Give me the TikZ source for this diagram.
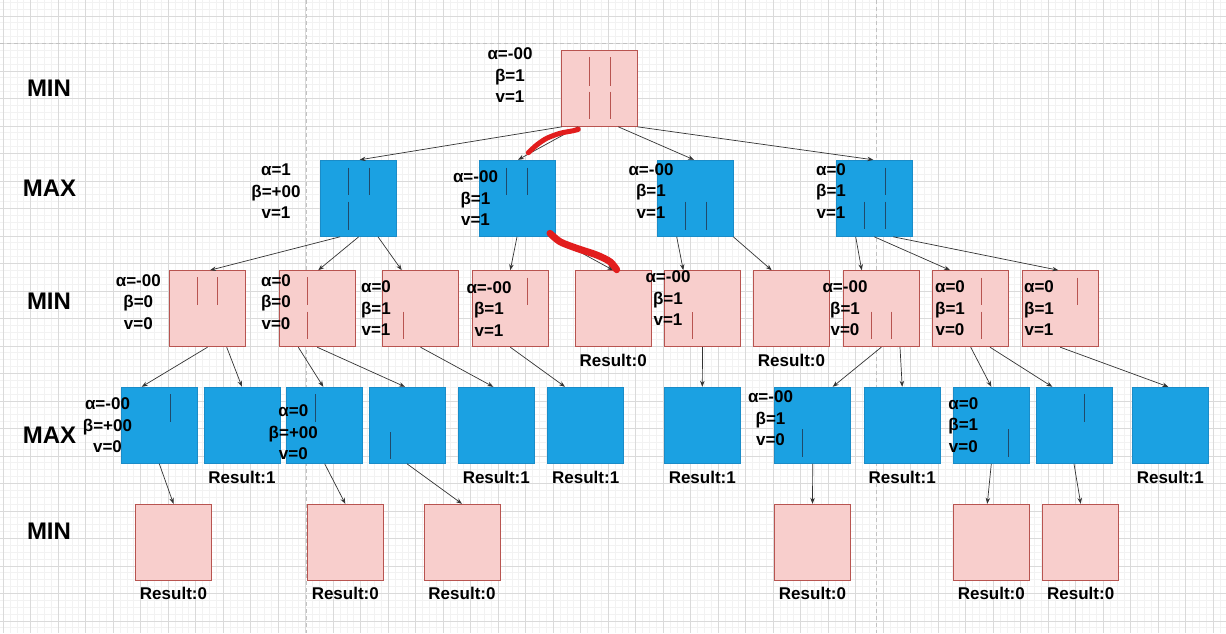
\documentclass[tikz,border=0pt]{standalone}
\usepackage{fontspec}
\setmainfont{Liberation Sans}
\usetikzlibrary{arrows.meta,calc}
\definecolor{pinkfill}{HTML}{F8CECC}
\definecolor{pinkdraw}{HTML}{B85450}
\definecolor{bluefill}{HTML}{1BA1E2}
\definecolor{bluedraw}{HTML}{1A8CC8}
\definecolor{blueline}{HTML}{1F4A6B}
\definecolor{edgecol}{HTML}{333333}
\definecolor{gridmajor}{HTML}{DADADA}
\definecolor{gridminor}{HTML}{F2F2F2}
\definecolor{pagebreak}{HTML}{C2C2C2}
\definecolor{redmark}{HTML}{E21D1D}
\begin{document}
\begin{tikzpicture}[x=1pt,y=-1pt,
 minbox/.style={rectangle,draw=pinkdraw,fill=pinkfill,line width=1pt,minimum size=76pt,inner sep=0pt},
 maxbox/.style={rectangle,draw=bluedraw,fill=bluefill,line width=1pt,minimum size=76pt,inner sep=0pt},
 lab/.style={align=center,font=\fontsize{17}{21.5}\selectfont\bfseries,inner sep=0pt},
 res/.style={font=\fontsize{17}{21.5}\selectfont\bfseries,inner sep=0pt},
 lev/.style={font=\fontsize{24}{28}\selectfont\bfseries,inner sep=0pt},
 edge/.style={draw=edgecol,line width=0.7pt,-{Stealth[length=6pt,width=4.5pt]}},
 pmark/.style={draw=pinkdraw,line width=1pt},
 bmark/.style={draw=blueline,line width=1pt},
 redstroke/.style={draw=redmark,line cap=round,line join=round},
 minorgrid/.style={draw=gridminor,line width=0.8pt},
 majorgrid/.style={draw=gridmajor,line width=1pt},
 pbreak/.style={draw=pagebreak,line width=1pt,dash pattern=on 4pt off 3pt},
]
\fill[white] (0,0) rectangle (1226,633);
\useasboundingbox (0,0) rectangle (1226,633);
% grid
\foreach \i in {0,...,178} {\draw[minorgrid] ({3.2+6.8755*\i},0) -- ({3.2+6.8755*\i},633);}
\foreach \j in {-2,...,89} {\draw[minorgrid] (0,{16+6.875*\j}) -- (1226,{16+6.875*\j});}
\foreach \i in {0,...,44} {\draw[majorgrid] ({3.2+27.502*\i},0) -- ({3.2+27.502*\i},633);}
\foreach \j in {0,...,22} {\draw[majorgrid] (0,{16+27.5*\j}) -- (1226,{16+27.5*\j});}
\draw[pbreak] (0,43.4) -- (1226,43.4);
\draw[pbreak] (306.2,0) -- (306.2,633);
\draw[pbreak] (876.7,0) -- (876.7,633);

% level labels
\node[lev] (lv0) at (49,88.3) {MIN};
\node[lev] (lv1) at (49.5,188.3) {MAX};
\node[lev] (lv2) at (49,301.7) {MIN};
\node[lev] (lv3) at (49.5,435) {MAX};
\node[lev] (lv4) at (49,531.7) {MIN};

% boxes
\node[minbox] (root) at (599.5,88.3) {};
\node[maxbox] (m1) at (358.7,198.3) {};
\node[maxbox] (m2) at (517,198.3) {};
\node[maxbox] (m3) at (695.5,198.3) {};
\node[maxbox] (m4) at (874.3,198.3) {};
\node[minbox] (A) at (207.5,308.7) {};
\node[minbox] (B) at (317.2,308.7) {};
\node[minbox] (C) at (420.5,308.7) {};
\node[minbox] (D) at (510.3,308.7) {};
\node[minbox] (E) at (613.2,308.7) {};
\node[minbox] (F) at (702.5,308.7) {};
\node[minbox] (G) at (791.5,308.7) {};
\node[minbox] (H) at (881.3,308.7) {};
\node[minbox] (I) at (970.7,308.7) {};
\node[minbox] (J) at (1060.2,308.7) {};
\node[maxbox] (K) at (159.3,425.3) {};
\node[maxbox] (L) at (242,425.3) {};
\node[maxbox] (M) at (324.7,425.3) {};
\node[maxbox] (N) at (407,425.3) {};
\node[maxbox] (O) at (496.3,425.3) {};
\node[maxbox] (P) at (585.7,425.3) {};
\node[maxbox] (Q) at (702.3,425.3) {};
\node[maxbox] (R) at (812.7,425.3) {};
\node[maxbox] (S) at (902.2,425.3) {};
\node[maxbox] (T) at (991.3,425.3) {};
\node[maxbox] (U) at (1074,425.3) {};
\node[maxbox] (V) at (1170.3,425.3) {};
\node[minbox] (W) at (173.5,542.3) {};
\node[minbox] (X) at (345.3,542.3) {};
\node[minbox] (Y) at (462,542.3) {};
\node[minbox] (Z1) at (812.5,542.3) {};
\node[minbox] (Z2) at (991.3,542.3) {};
\node[minbox] (Z3) at (1080.7,542.3) {};

% edges
\draw[edge] ([xshift=-37.5pt]root.south) -- ([xshift=1pt]m1.north);
\draw[edge] ([xshift=-21.5pt]root.south) -- ([xshift=1pt]m2.north);
\draw[edge] ([xshift=18.8pt]root.south) -- ([xshift=-1.5pt]m3.north);
\draw[edge] ([xshift=37.8pt]root.south) -- ([xshift=-1pt]m4.north);
\draw[edge] ([xshift=-18.7pt]m1.south) -- ([xshift=2.5pt]A.north);
\draw[edge] (m1.south) -- ([xshift=1pt]B.north);
\draw[edge] ([xshift=19.3pt]m1.south) -- ([xshift=-18.8pt]C.north);
\draw[edge] (m2.south) -- (D.north);
\draw[edge] ([xshift=35pt]m2.south) -- (E.north);
\draw[edge] ([xshift=-18.8pt]m3.south) -- ([xshift=-19.2pt]F.north);
\draw[edge] ([xshift=37.8pt]m3.south) -- ([xshift=-19.8pt]G.north);
\draw[edge] ([xshift=-18.6pt]m4.south) -- ([xshift=-19.6pt]H.north);
\draw[edge] (m4.south) -- ([xshift=-20.7pt]I.north);
\draw[edge] ([xshift=19pt]m4.south) -- ([xshift=-1.9pt]J.north);
\draw[edge] (A.south) -- ([xshift=-17.6pt]K.north);
\draw[edge] ([xshift=19.2pt]A.south) -- (L.north);
\draw[edge] ([xshift=-18.9pt]B.south) -- ([xshift=-1.4pt]M.north);
\draw[edge] (B.south) -- ([xshift=-2pt]N.north);
\draw[edge] (C.south) -- ([xshift=-3pt]O.north);
\draw[edge] (D.south) -- ([xshift=-20.7pt]P.north);
\draw[edge] (F.south) -- (Q.north);
\draw[edge] (H.south) -- ([xshift=20pt]R.north);
\draw[edge] ([xshift=18.7pt]H.south) -- (S.north);
\draw[edge] (I.south) -- (T.north);
\draw[edge] ([xshift=19.3pt]I.south) -- ([xshift=-21.7pt]U.north);
\draw[edge] (J.south) -- ([xshift=-2pt]V.north);
\draw[edge] (K.south) -- (W.north);
\draw[edge] (M.south) -- (X.north);
\draw[edge] (N.south) -- (Y.north);
\draw[edge] (R.south) -- (Z1.north);
\draw[edge] (T.south) -- ([xshift=-4pt]Z2.north);
\draw[edge] (U.south) -- (Z3.north);

% inner marks
\draw[pmark] (589.3,57.3) -- (589.3,86) (610,57.3) -- (610,86) (589.3,91.7) -- (589.3,119.3) (610,91.7) -- (610,119.3);
\draw[bmark] (348.3,167.7) -- (348.3,195) (369.3,167.7) -- (369.3,195) (348.3,201.7) -- (348.3,230);
\draw[bmark] (506.7,167.7) -- (506.7,195) (527.3,167.7) -- (527.3,195);
\draw[bmark] (685.7,201.7) -- (685.7,230) (706,201.7) -- (706,230);
\draw[bmark] (885,167.7) -- (885,195) (864.3,201.7) -- (864.3,229.3) (885,201.7) -- (885,229.3);
\draw[pmark] (197.7,277.3) -- (197.7,305) (217.7,277.3) -- (217.7,305);
\draw[pmark] (307.7,277.3) -- (307.7,305) (307.7,311.7) -- (307.7,339.3);
\draw[pmark] (403.3,311.7) -- (403.3,339.3);
\draw[pmark] (527.7,277.7) -- (527.7,305.3);
\draw[pmark] (692.3,312.3) -- (692.3,339.3);
\draw[pmark] (871,311.7) -- (871,339.3) (891.7,311.7) -- (891.7,339.3);
\draw[pmark] (981,277.7) -- (981,305.3) (981,311.7) -- (981,339.3);
\draw[pmark] (1077.3,277.7) -- (1077.3,305.3);
\draw[bmark] (170,394.3) -- (170,421.7);
\draw[bmark] (315,394.3) -- (315,421.7);
\draw[bmark] (390,432) -- (390,459.3);
\draw[bmark] (802.5,429.3) -- (802.5,456.5);
\draw[bmark] (1008.3,429.3) -- (1008.3,456.7);
\draw[bmark] (1084.3,394.3) -- (1084.3,421.7);

% red hand strokes
\draw[redstroke,line width=5pt] plot[smooth] coordinates {(578.3,129.3) (573.3,130.7) (560,133.3) (546.7,138.3) (536.7,145) (528.3,152.7)};
\draw[redstroke,line width=7pt] plot[smooth] coordinates {(550,233.3) (560,241.7) (576.7,248.3) (596.7,255) (610,261.7) (616.7,269.7)};

% alpha beta v labels
\node[lab] (lroot) at (510,75.5) {α=-00\\β=1\\v=1};
\node[lab] (lm1) at (276,191.5) {α=1\\β=+00\\v=1};
\node[lab] (lm2) at (475.5,198.5) {α=-00\\β=1\\v=1};
\node[lab] (lm3) at (651,191) {α=-00\\β=1\\v=1};
\node[lab] (lm4) at (831,191) {α=0\\β=1\\v=1};
\node[lab] (lA) at (138.3,301.7) {α=-00\\β=0\\v=0};
\node[lab] (lB) at (276,301.7) {α=0\\β=0\\v=0};
\node[lab] (lC) at (376,308.5) {α=0\\β=1\\v=1};
\node[lab] (lD) at (489,308.7) {α=-00\\β=1\\v=1};
\node[lab] (lF) at (668,298.3) {α=-00\\β=1\\v=1};
\node[lab] (lH) at (845,308.3) {α=-00\\β=1\\v=0};
\node[lab] (lI) at (950,308.3) {α=0\\β=1\\v=0};
\node[lab] (lJ) at (1039,308.3) {α=0\\β=1\\v=1};
\node[lab] (lK) at (107.5,425.5) {α=-00\\β=+00\\v=0};
\node[lab] (lM) at (293.3,432.5) {α=0\\β=+00\\v=0};
\node[lab] (lR) at (770.5,418.3) {α=-00\\β=1\\v=0};
\node[lab] (lT) at (963.3,425) {α=0\\β=1\\v=0};

% result labels
\node[res] (rE) at ([yshift=-13.5pt]E.south) {Result:0};
\node[res] (rG) at ([yshift=-13.5pt]G.south) {Result:0};
\node[res] (rL) at ([yshift=-13.5pt]L.south) {Result:1};
\node[res] (rO) at ([yshift=-13.5pt]O.south) {Result:1};
\node[res] (rP) at ([yshift=-13.5pt]P.south) {Result:1};
\node[res] (rQ) at ([yshift=-13.5pt]Q.south) {Result:1};
\node[res] (rS) at ([yshift=-13.5pt]S.south) {Result:1};
\node[res] (rV) at ([yshift=-13.5pt]V.south) {Result:1};
\node[res] (rW) at ([yshift=-13pt]W.south) {Result:0};
\node[res] (rX) at ([yshift=-13pt]X.south) {Result:0};
\node[res] (rY) at ([yshift=-13pt]Y.south) {Result:0};
\node[res] (rZ1) at ([yshift=-13pt]Z1.south) {Result:0};
\node[res] (rZ2) at ([yshift=-13pt]Z2.south) {Result:0};
\node[res] (rZ3) at ([yshift=-13pt]Z3.south) {Result:0};
\end{tikzpicture}
\end{document}
